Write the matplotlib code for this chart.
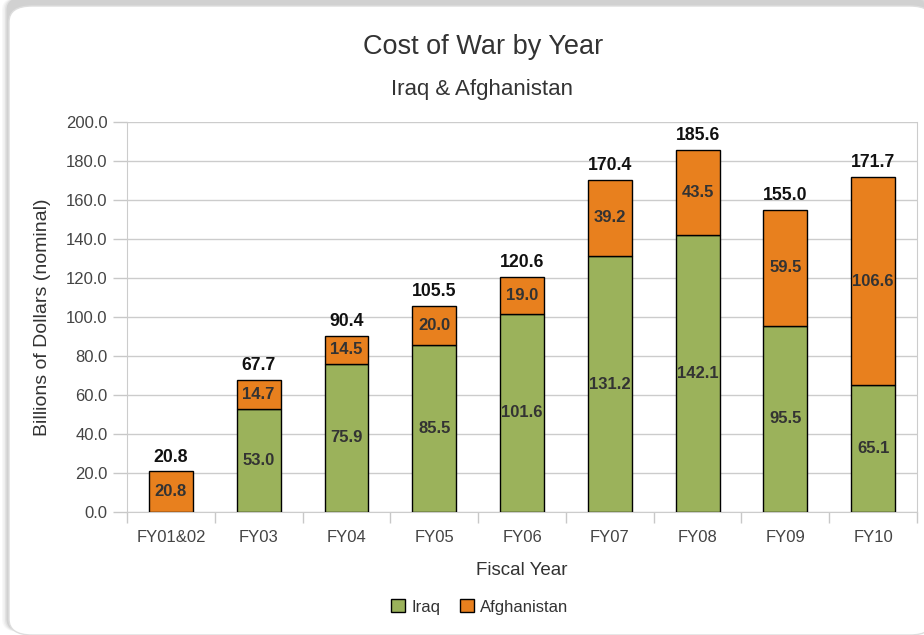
import matplotlib
matplotlib.use("Agg")
import matplotlib.pyplot as plt
from matplotlib.patches import FancyBboxPatch, Patch
import numpy as np

plt.rcParams['font.family'] = ['Liberation Sans', 'DejaVu Sans']

years = ["FY01&02", "FY03", "FY04", "FY05", "FY06", "FY07", "FY08", "FY09", "FY10"]
iraq = [0.0, 53.0, 75.9, 85.5, 101.6, 131.2, 142.1, 95.5, 65.1]
afghan = [20.8, 14.7, 14.5, 20.0, 19.0, 39.2, 43.5, 59.5, 106.6]
totals = [20.8, 67.7, 90.4, 105.5, 120.6, 170.4, 185.6, 155.0, 171.7]

green = "#9bb25b"
orange = "#e8801e"

fig = plt.figure(figsize=(9.24, 6.35), dpi=100)

# frame with a little shadow on the left
for i, a in enumerate([0.05, 0.08, 0.12, 0.18]):
    fig.patches.append(FancyBboxPatch((2 / 924 + i * 1.5 / 924, 3 / 635), 1.0, 1.0,
                                      boxstyle="round,pad=0,rounding_size=0.02",
                                      transform=fig.transFigure, facecolor="#888888",
                                      edgecolor="none", alpha=a, zorder=-10))
fig.patches.append(FancyBboxPatch((9 / 924, 0), 1.0, 1 - 6 / 635,
                                  boxstyle="round,pad=0,rounding_size=0.025",
                                  transform=fig.transFigure, facecolor="white",
                                  edgecolor="#dddddd", lw=1.0, zorder=-5))

ax = fig.add_axes([127 / 924, 1 - 512 / 635, (917 - 127) / 924, (512 - 122) / 635])
ax.set_facecolor("none")

x = np.arange(len(years))
w = 0.5
b1 = ax.bar(x, iraq, w, color=green, edgecolor="black", lw=1.0, zorder=3)
for rect, v in zip(b1, iraq):
    if v == 0:
        rect.set_visible(False)
b2 = ax.bar(x, afghan, w, bottom=iraq, color=orange, edgecolor="black", lw=1.0, zorder=3)

for i in range(len(years)):
    if iraq[i] > 0:
        ax.text(x[i], iraq[i] / 2, f"{iraq[i]:.1f}", ha="center", va="center",
                fontsize=12, fontweight="bold", color="#333333", zorder=4)
    ax.text(x[i], iraq[i] + afghan[i] / 2, f"{afghan[i]:.1f}", ha="center", va="center",
            fontsize=12, fontweight="bold", color="#333333", zorder=4)
    ax.text(x[i], totals[i] + 3.0, f"{totals[i]:.1f}", ha="center", va="bottom",
            fontsize=12.7, fontweight="bold", color="#111111", zorder=4)

ax.set_xlim(-0.5, len(years) - 0.5)
ax.set_ylim(0, 200)
ax.set_yticks(np.arange(0, 201, 20))
ax.set_yticklabels([f"{v:.1f}" for v in np.arange(0, 201, 20)])
ax.set_xticks(x)
ax.set_xticklabels(years)
ax.set_xticks(np.arange(-0.5, len(years)), minor=True)
ax.tick_params(axis="x", which="major", length=0, pad=13, labelsize=12, labelcolor="#444444")
ax.tick_params(axis="x", which="minor", length=8, color="#c8c8c8", width=1)
ax.tick_params(axis="y", length=10, color="#c8c8c8", width=1, labelsize=12,
               labelcolor="#444444", pad=4)
ax.grid(axis="y", color="#cccccc", lw=1.0, zorder=0)
for s in ["top", "bottom", "left", "right"]:
    ax.spines[s].set_color("#cccccc")
ax.spines["top"].set_visible(False)

ax.set_xlabel("Fiscal Year", fontsize=13.5, color="#333333", labelpad=12)
ax.set_ylabel("Billions of Dollars (nominal)", fontsize=14, color="#333333", labelpad=11)

fig.text(483 / 924, 1 - 47 / 635, "Cost of War by Year", ha="center", va="center",
         fontsize=19.5, color="#333333")
fig.text(482 / 924, 1 - 89 / 635, "Iraq & Afghanistan", ha="center", va="center",
         fontsize=16, color="#333333")

handles = [Patch(facecolor=green, edgecolor="black", lw=1.0),
           Patch(facecolor=orange, edgecolor="black", lw=1.0)]
fig.legend(handles=handles, labels=["Iraq", "Afghanistan"], loc="center",
           bbox_to_anchor=(480 / 924, 1 - 607 / 635), ncol=2, frameon=False,
           fontsize=12, handlelength=0.8, handleheight=0.8, handletextpad=0.4,
           columnspacing=1.2, labelcolor="#333333")

fig.savefig("out.png", dpi=100)
